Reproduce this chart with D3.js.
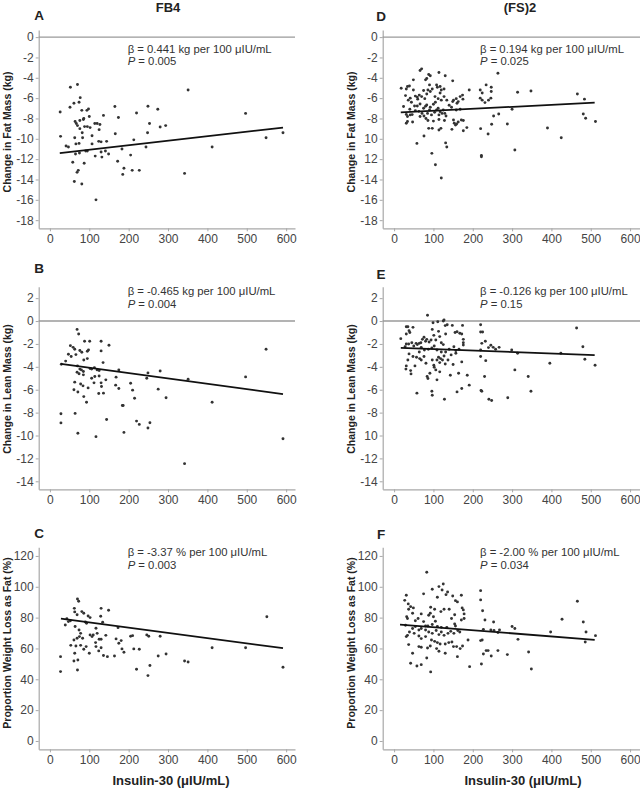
<!DOCTYPE html>
<html><head><meta charset="utf-8">
<script src="https://cdn.jsdelivr.net/npm/d3@7"></script>
<style>body{margin:0;background:#fff} text{font-family:"Liberation Sans",Arial,sans-serif}</style>
</head><body><svg id="c" width="640" height="789"></svg>
<script>
// ---------- DATA ----------
const columnTitles = ["FB4", "(FS)2"];
const panelLetters = ["A","B","C","D","E","F"];
const yLabels = ["Change in Fat  Mass (kg)", "Change in Lean  Mass (kg)", "Proportion Weight Loss as Fat (%)"];
const xLabel = "Insulin-30 (\u03bcIU/mL)";

const xTicks = [0,100,200,300,400,500,600];
const xTickLabels = ["0","100","200","300","400","500","600"];
const yTicksFat = [0,-2,-4,-6,-8,-10,-12,-14,-16,-18];
const yTickLabelsFatFB4 = ["0","-2","-4","-6","-8","-10","-12","-14","-16","-18"];
const yTickLabelsFatFS2 = ["0","-2","-4","-6","-8","10","12","-14","-16","-18"];
const yTicksLean = [2,0,-2,-4,-6,-8,-10,-12,-14];
const yTickLabelsLeanFB4 = ["2","0","-2","-4","-6","-8","-10","-12","-14"];
const yTickLabelsLeanFS2 = ["2","0","-2","-4","-6","-8","10","-12","-14"];
const yTicksProp = [0,20,40,60,80,100,120];
const yTickLabelsProp = ["0","20","40","60","80","100","120"];

const betaText = [
  "\u03b2 = 0.441 kg per 100 \u03bcIU/mL",
  "\u03b2 = -0.465 kg per 100 \u03bcIU/mL",
  "\u03b2 = -3.37 % per 100 \u03bcIU/mL",
  "\u03b2 = 0.194 kg per 100 \u03bcIU/mL",
  "\u03b2 = -0.126 kg per 100 \u03bcIU/mL",
  "\u03b2 = -2.00 % per 100 \u03bcIU/mL"];
const pValues = ["0.005","0.004","0.003","0.025","0.15","0.034"];

// regression line endpoints [x0, y0, x1, y1]
const fitFatFB4 = [25,-11.4,592,-8.9];
const fitLeanFB4 = [28,-3.75,592,-6.38];
const fitPropFB4 = [28,79.3,592,60.2];
const fitFatFS2 = [17,-7.4,510,-6.45];
const fitLeanFS2 = [17,-2.35,510,-2.97];
const fitPropFS2 = [15,75.5,510,65.6];

const fatFB4 = [[52,-4.93],[70,-4.66],[26,-7.36],[27,-9.76],[51,-6.9],[61,-6.5],[74,-6.4],[77,-5.95],[81,-7.2],
[64,-8.3],[67,-8.5],[70,-8.7],[76,-8.2],[85,-8.1],[86,-8.0],[94,-7.2],[98,-7.06],[100,-7.8],[76,-9.0],[82,-9.4],
[88,-8.8],[95,-8.8],[102,-8.9],[83,-9.9],[63,-9.9],[74,-10.45],[66,-10.5],[41,-10.7],[47,-10.8],[65,-11.5],[75,-11.4],
[95,-11.2],[91,-11.2],[107,-10.5],[107,-9.7],[114,-8.5],[120,-8.5],[127,-8.6],[136,-7.7],[125,-9.1],[124,-10.25],
[130,-10.3],[130,-11.3],[132,-11.8],[115,-11.7],[141,-11.2],[144,-10.25],[149,-11.5],[58,-12.3],[87,-12.4],[69,-13.3],
[72,-13.1],[62,-14.2],[81,-14.45],[117,-16.0],[165,-6.83],[174,-7.9],[166,-9.5],[172,-12.2],[183,-11.0],[185,-13.5],
[188,-12.9],[209,-13.1],[227,-13.1],[220,-7.46],[213,-10.1],[205,-11.6],[244,-10.8],[248,-9.4],[249,-6.8],[253,-8.5],
[274,-7.1],[280,-8.84],[294,-8.7],[351,-5.2],[342,-13.4],[412,-10.8],[497,-7.5],[549,-9.9],[592,-9.4]];

const leanFB4 = [[69,-0.73],[73,-1.13],[52,-2.15],[59,-2.3],[63,-2.47],[54,-3.1],[47,-2.9],[40,-3.5],[29,-3.78],
[66,-2.93],[76,-2.58],[81,-2.73],[88,-1.77],[101,-1.77],[95,-2.64],[98,-2.53],[95,-3.28],[86,-3.4],[70,-3.92],[76,-4.2],
[80,-4.27],[85,-4.41],[69,-4.47],[74,-4.6],[85,-4.7],[102,-4.15],[106,-4.2],[113,-4.07],[120,-4.27],[125,-4.33],
[130,-1.77],[130,-2.61],[135,-3.63],[150,-2.12],[114,-4.85],[125,-4.8],[130,-5.4],[142,-5.14],[131,-5.72],[106,-5.0],
[112,-5.4],[97,-5.84],[78,-5.5],[84,-5.66],[63,-5.34],[61,-6.0],[71,-6.2],[86,-6.6],[93,-7.1],[124,-6.33],[136,-6.3],
[64,-8.07],[28,-8.1],[28,-8.9],[71,-9.8],[117,-10.1],[144,-8.6],[168,-4.9],[167,-5.6],[175,-5.9],[175,-4.27],
[184,-7.38],[186,-7.38],[188,-9.73],[205,-5.43],[210,-6.04],[215,-6.74],[220,-8.74],[227,-9.03],[246,-5.0],[249,-4.53],
[249,-9.35],[254,-8.89],[275,-5.95],[280,-4.36],[295,-6.7],[342,-12.46],[351,-5.08],[412,-7.1],[497,-4.88],[549,-2.47],[592,-10.28]];

const propFB4 = [[70,92.1],[73,90.6],[62,86],[63,83.7],[69,81.9],[81,83.9],[86,82.8],[130,86],[149,84.8],[129,80.9],
[97,81],[102,80],[39,75.2],[43,79.3],[52,78],[47,77.4],[64,74.2],[74,72],[90,77.2],[93,76.3],[107,67.7],[102,68.8],
[110,68.8],[117,73.1],[120,69.8],[134,77],[142,68.5],[125,66],[130,66],[116,63.8],[78,69.8],[69,66.6],[75,67.7],
[83,66.6],[61,65.5],[66,61.6],[53,62],[78,62],[86,59.5],[92,61.2],[117,61.2],[124,58.4],[130,60.5],[100,56.9],
[63,56.9],[136,55.4],[146,54.7],[61,51.9],[71,52.5],[70,46],[27,54.7],[27,45],[168,66.2],[175,63.4],[164,55.1],
[181,65.1],[183,59.7],[188,57.5],[173,73.5],[205,67.9],[210,68.3],[213,59.7],[227,59.5],[220,46.5],[246,68.8],
[251,67.9],[249,42.4],[254,48.9],[275,55.1],[280,67.9],[295,56.4],[342,51.9],[351,51.2],[412,60.5],[497,60.5],
[551,80.6],[592,47.8]];

const fatFS2 = [[18,-5.03],[31,-5.1],[34,-4.86],[39,-4.8],[49,-4.2],[66,-3.28],[70,-3.12],[80,-4.2],[83,-4.07],
[88,-3.68],[92,-3.8],[90,-4.7],[114,-3.48],[130,-3.8],[108,-4.7],[110,-4.93],[117,-4.86],[120,-5.2],[127,-5.1],
[149,-4.3],[29,-5.75],[36,-6.2],[41,-6.0],[49,-5.2],[54,-5.8],[59,-5.9],[64,-5.7],[70,-5.85],[75,-5.25],[78,-6.05],
[83,-5.6],[86,-5.2],[92,-5.35],[97,-5.1],[104,-5.85],[112,-6.05],[117,-5.5],[120,-6.2],[127,-5.85],[134,-6.2],
[151,-6.2],[158,-6.05],[163,-6.34],[168,-5.85],[174,-5.7],[175,-6.1],[191,-5.2],[52,-6.77],[59,-6.77],[66,-6.57],
[75,-7.0],[80,-6.8],[83,-6.67],[92,-6.9],[100,-6.6],[24,-6.83],[31,-7.6],[34,-7.8],[41,-7.65],[34,-8.3],[31,-8.47],
[47,-8.34],[46,-7.62],[54,-7.23],[63,-7.3],[66,-7.8],[71,-7.5],[76,-7.75],[81,-8.0],[85,-7.5],[90,-7.16],[95,-7.65],
[86,-8.2],[97,-8.97],[88,-8.97],[100,-8.26],[103,-7.4],[108,-7.16],[112,-7.0],[114,-7.65],[117,-7.33],[122,-7.5],
[125,-7.16],[129,-7.5],[132,-7.75],[114,-8.1],[119,-8.97],[114,-9.13],[131,-10.4],[134,-10.8],[58,-10.45],[76,-9.72],
[96,-11.43],[105,-12.55],[120,-13.86],[151,-8.15],[153,-8.47],[156,-8.64],[159,-8.55],[163,-8.34],[147,-9.07],
[168,-7.1],[171,-8.15],[176,-8.2],[176,-9.2],[185,-8.9],[146,-6.9],[149,-6.34],[158,-7.16],[219,-5.2],[224,-5.5],
[219,-6.0],[224,-6.2],[231,-6.44],[234,-4.7],[240,-6.2],[246,-6.0],[247,-4.93],[247,-5.35],[253,-7.75],[264,-3.55],
[266,-7.56],[220,-9.0],[222,-11.63],[222,-11.76],[239,-9.53],[248,-8.57],[288,-8.54],[300,-7.1],[307,-11.1],
[314,-5.42],[348,-5.3],[390,-8.94],[425,-9.89],[466,-5.6],[484,-6.1],[481,-7.56],[487,-7.98],[512,-8.3],
[44,-6.4],[60,-6.1],[105,-6.4],[140,-6.7],[40,-7.1],[128,-8.2],[160,-6.5]];

const leanFS2 = [[17,-1.54],[31,-0.5],[35,-0.5],[48,-0.55],[31,-1.13],[38,-0.84],[40,-1.0],[31,-2.0],[28,-2.24],
[37,-2.0],[45,-1.9],[50,-2.18],[56,-1.95],[59,-2.06],[64,-1.95],[68,-1.9],[72,-1.6],[76,-1.42],[80,-1.77],[83,-1.6],
[85,0.5],[89,-1.83],[94,-1.66],[99,-0.15],[97,-0.73],[101,-1.25],[106,-1.66],[111,-0.06],[113,-0.9],[116,-1.36],
[120,-1.9],[125,0.0],[127,0.09],[130,-0.4],[135,-0.32],[131,-1.13],[125,-2.06],[148,-0.38],[155,-1.0],[160,-0.93],
[167,-1.07],[172,-1.13],[174,-0.38],[176,-1.6],[176,-1.9],[176,-2.1],[152,-2.24],[157,-2.58],[165,-2.47],[140,-2.47],
[131,-2.7],[120,-2.7],[109,-2.53],[102,-2.18],[96,-2.35],[87,-2.47],[77,-2.53],[69,-2.3],[64,-2.7],[57,-3.17],
[48,-3.1],[38,-2.87],[35,-3.4],[31,-3.92],[30,-4.2],[42,-4.33],[43,-4.62],[53,-3.92],[65,-3.28],[69,-3.4],[76,-3.1],
[81,-3.69],[84,-4.85],[86,-5.02],[91,-4.56],[97,-3.4],[101,-3.86],[102,-4.04],[109,-3.4],[113,-3.17],[116,-3.63],
[118,-3.28],[123,-3.4],[127,-3.05],[130,-3.75],[137,-3.4],[109,-5.14],[106,-4.27],[116,-4.44],[143,-4.73],[150,-3.8],
[145,-2.96],[157,-2.82],[164,-4.56],[172,-3.57],[186,-4.73],[172,-5.9],[160,-6.19],[191,-5.6],[58,-6.3],[96,-6.13],
[97,-6.48],[128,-6.83],[220,-0.32],[220,-0.96],[225,-0.96],[232,-1.77],[223,-1.95],[220,-2.53],[220,-3.1],[233,-3.46],
[230,-4.85],[221,-6.07],[223,-6.13],[240,-2.32],[246,-2.12],[252,-2.3],[258,-2.47],[267,-2.3],[241,-6.83],[248,-6.94],
[289,-6.7],[299,-2.53],[307,-4.27],[314,-2.82],[341,-4.85],[348,-6.13],[396,-3.69],[424,-2.82],[464,-0.61],[480,-2.24],
[485,-3.34],[511,-3.86]];

const propFS2 = [[83,109.4],[31,94.5],[27,91.2],[36,88.9],[42,87.1],[49,86.3],[37,85.4],[32,80.6],[34,79.4],[29,75],
[47,82.8],[54,78],[61,79.4],[69,82.4],[75,95.4],[75,77.4],[80,74.6],[88,81.5],[92,82.8],[93,86.7],[97,98.4],[100,80.6],
[103,85.4],[110,93.2],[114,100.1],[119,83.9],[122,97.9],[125,101.8],[127,85.4],[132,94.9],[136,96.6],[140,85.4],
[149,94],[156,91],[161,90.2],[171,94.5],[173,86.3],[176,85],[178,82.4],[154,81.9],[146,79.4],[178,79.4],[171,78.5],
[154,75.9],[156,74.6],[134,73.7],[120,73.7],[110,74.2],[105,77.6],[97,75.5],[86,74.6],[80,72],[69,72.9],[63,72],
[54,74.2],[47,72.9],[39,70.7],[34,68.5],[31,67.7],[51,69.8],[63,68.1],[69,66.4],[80,67.7],[88,70.7],[97,69.8],
[107,71.6],[114,69],[120,70.7],[127,68.5],[137,69.8],[144,71.1],[152,69.8],[162,71.6],[167,70.7],[95,65.5],[103,64.6],
[110,63.8],[117,62.9],[130,62.9],[139,63.8],[147,64.2],[151,61.2],[159,61.2],[168,59.9],[174,61.6],[37,62.5],[63,61.2],
[69,60.8],[85,60.3],[92,61.6],[108,59.9],[114,58.2],[130,56.9],[161,54.7],[83,53.8],[47,56.9],[42,50.4],[58,48.6],
[69,49.5],[93,44.8],[188,65.5],[192,48.2],[220,97.5],[220,91.5],[225,84.5],[231,78.5],[220,65.1],[224,65.5],[227,72.4],
[222,49.9],[227,56.4],[234,58.6],[239,58.6],[246,72],[247,55.1],[253,77.2],[254,71.6],[264,70.3],[264,58.6],[268,72],
[288,56],[300,74.2],[307,72.9],[315,65.9],[342,57.7],[349,46.7],[398,70.7],[427,78.9],[466,90.6],[481,77.2],[488,70.7],
[486,64.2],[512,68.3]];

// ---------- LAYOUT ----------
const svg = d3.select("#c");
const colX = [{axis:38.7, right:295, d0:-28.5, d1:622.5, ann:127.7, yl:7, letter:39, title:168},
              {axis:382.7, right:640.3, d0:-29, d1:626, ann:480, yl:351, letter:381, title:520}];
const rows = [
  {top:30, bottom:228.3, dom:[-18.8,0.7], ticks:yTicksFat, zero:true, beta:53.3, p:65.3, letterY:[20,20.5], ylY:132},
  {top:286.7, bottom:489.3, dom:[-14.7,3.0], ticks:yTicksLean, zero:true, beta:295.3, p:307.7, letterY:[273,279], ylY:389},
  {top:547.3, bottom:749.3, dom:[-5.4,125.6], ticks:yTicksProp, zero:false, beta:556, p:568.7, letterY:[537.5,539], ylY:643}
];
const panels = [
  {c:0,r:0,data:fatFB4,fit:fitFatFB4,tl:yTickLabelsFatFB4},
  {c:0,r:1,data:leanFB4,fit:fitLeanFB4,tl:yTickLabelsLeanFB4},
  {c:0,r:2,data:propFB4,fit:fitPropFB4,tl:yTickLabelsProp},
  {c:1,r:0,data:fatFS2,fit:fitFatFS2,tl:yTickLabelsFatFS2},
  {c:1,r:1,data:leanFS2,fit:fitLeanFS2,tl:yTickLabelsLeanFS2},
  {c:1,r:2,data:propFS2,fit:fitPropFS2,tl:yTickLabelsProp}
];

columnTitles.forEach((t,i)=>{
  svg.append("text").attr("x",colX[i].title).attr("y",11.5).attr("text-anchor","middle")
    .attr("font-size",13).attr("font-weight","bold").attr("fill","#222").text(t);
  svg.append("text").attr("x",colX[i].title+3).attr("y",785).attr("text-anchor","middle")
    .attr("font-size",13).attr("font-weight","bold").attr("fill","#222").text(xLabel);
});

panels.forEach((p,i)=>{
  const C = colX[p.c], R = rows[p.r];
  const x = d3.scaleLinear().domain([C.d0,C.d1]).range([C.axis,C.right]);
  const y = d3.scaleLinear().domain(R.dom).range([R.bottom,R.top]);
  const g = svg.append("g");

  // axes
  const xa = g.append("g").attr("transform",`translate(0,${R.bottom})`)
    .call(d3.axisBottom(x).tickValues(xTicks).tickFormat((d,j)=>xTickLabels[j]).tickSize(3).tickSizeOuter(0).tickPadding(3));
  const ya = g.append("g").attr("transform",`translate(${C.axis},0)`)
    .call(d3.axisLeft(y).tickValues(R.ticks).tickFormat((d,j)=>p.tl[j]).tickSize(3).tickSizeOuter(0).tickPadding(2));
  [xa,ya].forEach(a=>{
    a.select(".domain").attr("stroke","#a8a8a8").attr("stroke-width",1.2);
    a.selectAll(".tick line").attr("stroke","#a8a8a8");
    a.selectAll("text").attr("font-size",12).attr("fill","#444").attr("font-family","Liberation Sans, Arial, sans-serif");
  });

  if (R.zero) {
    g.append("line").attr("x1",C.axis).attr("x2",C.right).attr("y1",y(0)).attr("y2",y(0))
      .attr("stroke","#9a9a9a").attr("stroke-width",1.4);
  }

  // points
  g.selectAll("circle").data(p.data).join("circle")
    .attr("cx",d=>x(d[0])).attr("cy",d=>y(d[1])).attr("r",1.45).attr("fill","#333");

  // fit
  g.append("line").attr("x1",x(p.fit[0])).attr("y1",y(p.fit[1])).attr("x2",x(p.fit[2])).attr("y2",y(p.fit[3]))
    .attr("stroke","#111").attr("stroke-width",1.8);

  // annotations
  g.append("text").attr("x",C.ann).attr("y",R.beta).attr("font-size",11.3).attr("fill","#333").text(betaText[i]);
  const pt = g.append("text").attr("x",C.ann).attr("y",R.p).attr("font-size",11.3).attr("fill","#333");
  pt.append("tspan").attr("font-style","italic").text("P");
  pt.append("tspan").text(" = " + pValues[i]);

  // letter
  g.append("text").attr("x",C.letter).attr("y",R.letterY[p.c]).attr("text-anchor","middle")
    .attr("font-size",13.5).attr("font-weight","bold").attr("fill","#222").text(panelLetters[i]);

  // y label
  g.append("text").attr("transform",`translate(${C.yl},${R.ylY}) rotate(-90)`).attr("text-anchor","middle")
    .attr("dominant-baseline","central").attr("font-size",10.5).attr("font-weight","bold").attr("fill","#222")
    .text(yLabels[p.r]);
});
</script></body></html>
